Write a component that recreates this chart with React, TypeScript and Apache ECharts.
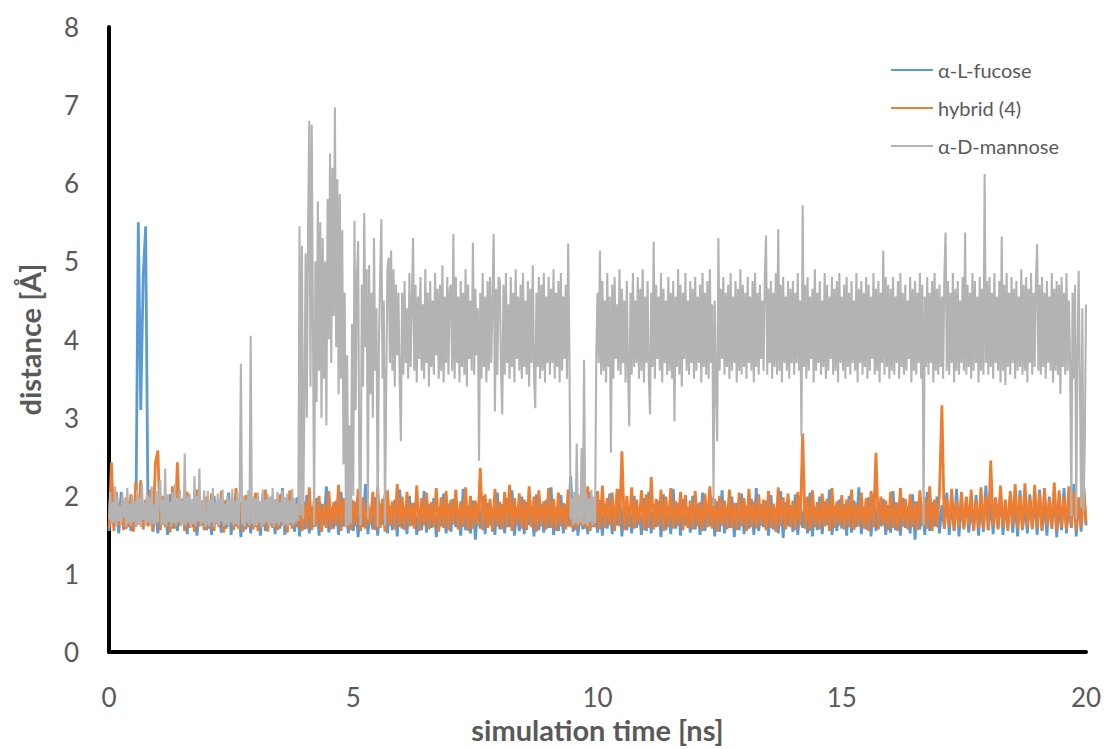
import React, { useEffect, useRef } from "react";
import * as echarts from "echarts";

// Simulation time runs from 0 to 20 ns.
// fucose / hybrid: one value every 0.05 ns (one row = 1 ns)
// mannose: one value every 0.025 ns (two rows = 1 ns)
const timeStart = 0;
const timeEnd = 20;

const fucose = [
  1.55,1.98,1.62,1.90,1.52,2.05,1.70,1.58,1.93,1.55,1.84,1.60,5.50,3.10,4.80,5.45,1.65,1.95,1.54,1.88,
  1.52,1.96,1.63,1.85,1.50,2.02,1.58,1.92,1.55,1.80,1.66,2.08,1.51,1.88,1.60,1.95,1.49,1.83,1.62,1.97,
  1.56,1.86,1.50,2.00,1.64,1.82,1.53,1.94,1.58,2.04,1.50,1.87,1.61,1.92,1.47,1.85,1.57,1.99,1.52,1.90,
  1.60,1.84,1.49,2.03,1.55,1.89,1.62,1.96,1.51,1.83,1.58,2.10,1.50,1.91,1.63,1.86,1.54,1.98,1.48,1.88,
  1.57,2.01,1.52,1.85,1.60,1.97,1.49,1.90,1.62,2.12,1.53,1.86,1.58,1.94,1.50,2.05,1.61,1.84,1.52,1.99,
  1.55,1.92,1.47,1.88,1.60,2.15,1.51,1.83,1.57,1.98,1.49,1.90,1.63,2.02,1.52,1.87,1.56,1.95,1.48,2.08,
  1.58,1.86,1.51,2.00,1.62,1.91,1.50,1.84,1.56,2.06,1.53,1.89,1.59,1.97,1.47,1.85,1.61,2.03,1.52,1.90,
  1.54,1.96,1.60,1.83,1.49,2.09,1.56,1.88,1.52,1.94,1.44,1.86,1.58,2.00,1.51,1.91,1.62,1.85,1.50,2.04,
  1.57,1.89,1.52,1.97,1.60,2.07,1.49,1.84,1.55,1.99,1.51,1.92,1.63,1.87,1.48,2.02,1.56,1.90,1.53,1.95,
  1.59,2.11,1.50,1.86,1.55,2.01,1.52,1.89,1.61,2.25,1.54,1.93,1.49,1.85,1.57,1.98,1.51,2.05,1.60,1.88,
  1.53,1.95,1.49,1.90,1.58,2.03,1.51,1.86,1.62,2.08,1.48,1.92,1.56,1.87,1.52,2.00,1.59,1.84,1.50,1.97,
  1.55,2.05,1.52,1.89,1.60,1.94,1.47,2.02,1.56,1.86,1.51,2.09,1.58,1.91,1.49,1.96,1.62,1.85,1.53,2.00,
  1.57,1.90,1.50,2.04,1.55,1.88,1.61,1.98,1.48,1.93,1.54,2.07,1.52,1.86,1.59,1.99,1.47,1.91,1.56,2.03,
  1.51,1.87,1.58,1.96,1.50,2.10,1.55,1.89,1.60,1.94,1.49,2.01,1.57,1.85,1.52,2.06,1.46,1.92,1.61,1.88,
  1.54,2.02,1.50,1.90,1.59,1.97,1.52,2.04,1.48,1.86,1.56,1.99,1.51,1.93,1.62,2.08,1.50,1.87,1.55,1.95,
  1.58,1.89,1.49,2.00,1.53,1.94,1.60,2.11,1.51,1.86,1.57,1.98,1.48,2.03,1.55,1.90,1.61,1.96,1.50,1.88,
  1.53,2.06,1.56,1.91,1.49,1.97,1.59,1.87,1.52,2.02,1.44,1.93,1.57,1.89,1.50,2.05,1.55,1.92,1.61,1.99,
  1.52,1.88,1.58,2.04,1.50,1.95,1.55,2.09,1.48,1.90,1.60,1.98,1.53,1.86,1.57,2.01,1.49,1.93,1.54,2.13,
  1.56,1.92,1.51,1.98,1.59,2.05,1.50,1.89,1.62,2.00,1.53,1.94,1.48,2.07,1.57,1.88,1.52,2.02,1.60,1.95,
  1.50,2.08,1.55,1.91,1.49,1.99,1.58,2.06,1.47,1.90,1.56,2.10,1.52,1.93,1.59,2.15,1.48,1.97,1.54,2.12,
  1.62,
];

const hybrid = [
  1.58,2.43,1.55,2.05,1.62,1.92,1.56,1.98,1.60,2.02,1.54,2.18,1.63,2.20,1.57,1.95,1.61,2.08,1.55,2.42,
  2.58,1.56,2.00,1.60,1.93,1.53,2.12,1.58,2.43,1.62,1.96,1.55,2.05,1.59,1.90,1.54,2.08,1.61,1.94,1.56,
  1.99,1.58,2.03,1.55,1.91,1.60,2.06,1.53,1.95,1.62,1.89,1.56,2.10,1.58,1.93,1.54,2.01,1.60,1.92,1.57,
  2.04,1.55,1.90,1.61,2.08,1.54,1.96,1.59,1.88,1.56,2.02,1.62,1.94,1.53,2.07,1.58,1.91,1.60,1.99,1.55,
  1.93,1.58,2.11,1.56,1.95,1.61,2.00,1.54,1.89,1.59,2.06,1.57,1.92,1.62,2.14,1.55,1.97,1.60,2.03,1.56,
  1.94,1.61,2.09,1.55,1.98,1.58,1.90,1.63,2.05,1.56,2.12,1.59,1.96,1.54,2.07,1.62,1.93,1.57,2.15,1.60,
  1.99,1.56,2.05,1.61,1.91,1.58,2.13,1.55,1.97,1.62,2.04,1.57,1.92,1.60,2.10,1.54,1.98,1.59,2.06,1.56,
  1.95,1.63,2.08,1.57,1.93,1.60,2.11,1.55,2.00,1.58,1.94,1.62,2.36,1.56,2.02,1.59,1.96,1.54,2.09,1.61,
  1.92,1.57,2.05,1.60,2.14,1.55,1.97,1.62,2.03,1.58,1.95,1.56,2.12,1.60,1.99,1.54,2.07,1.61,1.93,1.57,
  2.10,1.59,1.96,1.55,2.04,1.61,1.91,1.57,2.08,1.60,1.94,1.56,2.02,1.62,2.05,1.58,2.12,1.55,1.98,1.60,
  2.06,1.57,2.13,1.59,1.97,1.62,2.04,1.55,2.09,1.61,2.57,1.56,2.00,1.60,2.11,1.58,1.95,1.63,2.07,1.56,
  2.02,1.59,2.24,1.57,1.96,1.61,2.08,1.55,1.99,1.60,2.10,1.58,1.93,1.62,2.05,1.56,2.01,1.59,1.94,1.57,
  2.06,1.61,1.92,1.55,2.03,1.60,2.12,1.58,1.96,1.54,2.00,1.62,1.94,1.57,2.08,1.59,1.91,1.56,2.04,1.61,
  1.97,1.55,2.09,1.60,1.93,1.58,2.02,1.62,1.95,1.56,2.06,1.59,1.90,1.54,2.11,1.61,1.98,1.57,2.03,1.60,
  1.94,1.56,2.05,1.62,2.80,1.58,1.99,1.55,2.07,1.60,1.92,1.57,2.03,1.61,1.96,1.55,2.10,1.59,1.93,1.62,
  2.01,1.57,1.95,1.60,2.08,1.56,1.91,1.61,2.04,1.58,1.97,1.55,2.06,1.60,2.55,1.57,1.99,1.62,1.94,1.56,
  2.05,1.59,1.92,1.55,2.10,1.61,1.96,1.57,2.02,1.60,1.93,1.56,2.07,1.62,1.98,1.58,2.12,1.55,1.95,1.60,
  2.03,3.16,1.58,1.96,1.61,2.09,1.56,1.93,1.60,2.05,1.57,1.99,1.62,2.08,1.55,1.94,1.59,2.11,1.58,2.00,
  1.56,2.45,1.61,1.97,1.57,2.13,1.60,1.95,1.55,2.06,1.62,2.15,1.58,2.01,1.56,2.16,1.61,1.98,1.57,2.14,
  1.59,2.03,1.56,2.10,1.62,1.96,1.58,2.17,1.55,2.07,1.60,1.99,1.57,2.12,1.61,2.05,1.56,1.98,1.60,2.15,
  1.65,
];

const mannose = [
  1.70,2.05,1.63,1.92,1.66,2.12,1.61,1.98,1.68,1.88,1.62,2.02,1.72,1.95,1.60,2.10,1.65,1.90,1.62,2.00,
  1.67,1.93,1.61,2.08,1.64,1.97,1.60,2.15,1.69,1.91,1.62,2.04,1.66,1.99,1.61,2.12,1.64,1.89,1.63,2.06,
  1.66,1.98,2.20,1.62,1.95,1.64,2.35,1.61,2.02,1.67,1.92,1.60,2.05,1.65,2.15,1.62,1.97,1.66,2.08,1.61,
  1.94,1.63,2.54,1.62,1.99,1.66,2.03,1.60,1.96,1.64,2.25,1.61,2.00,1.67,2.35,1.62,1.93,1.65,2.07,1.60,
  1.64,2.06,1.61,1.95,1.66,2.10,1.60,1.92,1.65,2.03,1.62,1.97,1.67,2.08,1.61,1.90,1.63,2.01,1.60,1.96,
  1.66,2.09,1.62,1.94,1.64,2.04,1.61,1.98,3.69,1.63,2.00,1.60,1.95,1.66,2.07,1.62,4.05,1.64,1.99,1.61,
  1.97,1.62,2.04,1.66,1.93,1.60,2.08,1.63,1.95,1.67,2.02,1.61,1.99,1.64,2.10,1.60,1.96,1.65,2.05,1.62,
  1.92,1.66,2.07,1.61,1.98,1.63,2.03,1.60,1.94,1.65,2.09,1.62,1.97,1.66,1.90,1.68,5.45,1.75,5.20,1.70,
  3.20,5.10,3.00,5.40,6.80,3.40,6.75,4.20,1.62,5.00,3.20,5.77,3.60,5.50,3.00,5.30,3.50,5.00,2.90,5.80,
  4.00,6.38,3.70,6.20,4.30,6.97,3.90,6.05,3.30,5.86,3.50,5.40,2.40,4.60,1.60,3.80,1.62,2.90,1.65,4.20,
  2.00,5.52,3.10,4.80,5.26,2.20,1.62,4.70,3.40,5.62,3.90,4.90,1.70,4.95,3.30,4.60,3.00,5.30,3.60,4.40,
  1.60,3.90,4.80,5.54,3.50,4.50,1.62,3.40,4.90,5.05,3.70,5.14,3.60,4.90,3.40,4.70,3.80,4.60,3.50,2.70,
  4.60,3.55,4.75,3.70,4.40,3.50,4.85,3.65,4.50,5.30,3.60,4.70,3.45,4.55,3.75,4.80,3.60,4.45,3.50,4.90,
  3.70,4.60,3.40,4.75,3.65,4.50,3.55,4.85,3.80,4.65,3.50,4.70,3.60,4.95,3.45,4.55,3.70,4.80,3.55,4.65,
  4.70,3.60,5.35,3.50,4.80,3.70,4.55,3.45,4.75,3.65,4.60,3.55,4.90,3.40,4.70,3.75,4.50,3.60,5.24,3.55,
  4.65,3.80,4.40,2.45,4.60,3.50,4.85,3.65,4.55,3.45,4.75,3.60,4.80,3.70,4.50,5.35,3.08,4.65,3.55,4.80,
  4.75,3.60,3.04,4.70,3.55,4.85,3.70,4.45,3.50,4.80,3.65,4.60,3.45,4.90,3.75,4.55,3.60,4.70,3.50,4.85,
  3.65,4.50,3.55,4.75,3.40,4.65,3.70,4.95,3.55,3.12,4.60,3.65,4.80,3.50,4.70,3.60,4.85,3.45,4.55,3.70,
  4.80,3.55,4.65,3.70,4.90,3.50,4.60,3.65,4.75,3.45,4.85,3.60,4.55,3.75,4.70,3.50,5.23,3.80,1.70,1.98,
  1.62,2.05,1.65,2.67,1.63,1.95,1.66,2.61,1.62,3.74,1.64,2.02,1.61,1.96,1.66,2.08,1.62,1.99,1.65,3.80,
  4.60,3.70,5.14,3.55,4.75,3.60,4.50,3.45,4.85,3.65,4.55,2.55,4.70,3.50,4.80,3.75,4.45,3.60,4.90,3.55,
  4.65,3.70,4.50,3.45,4.75,3.60,2.89,4.60,3.55,4.85,3.65,4.50,3.70,4.80,3.50,4.65,3.60,4.90,3.45,4.55,
  3.70,4.75,3.55,3.04,4.60,3.65,5.25,3.50,4.70,3.75,4.55,3.60,4.85,3.45,4.65,3.70,4.50,3.55,4.80,3.60,
  4.60,3.50,4.75,2.95,4.55,3.65,4.90,3.55,4.70,3.40,4.60,3.75,4.85,3.60,4.50,3.55,4.75,3.70,4.65,3.50,
  4.80,3.60,4.55,3.70,4.70,3.45,4.85,3.65,4.60,3.55,4.75,3.50,4.90,3.70,4.45,1.87,4.50,3.40,2.70,5.30,
  3.60,4.65,3.75,4.80,3.55,4.60,3.65,4.70,3.50,4.85,3.60,4.55,3.70,4.75,3.45,4.65,3.60,4.90,3.55,4.70,
  3.65,4.60,3.50,4.80,3.70,4.55,3.60,4.75,3.45,4.85,3.65,4.60,3.55,4.70,3.75,4.50,3.60,4.80,5.33,3.55,
  4.65,3.70,4.75,3.50,4.60,3.65,4.85,3.55,5.41,3.60,4.70,3.45,4.80,3.70,4.55,3.60,4.75,3.50,4.65,3.70,
  4.75,3.55,4.60,3.70,4.85,3.60,4.50,2.76,5.72,3.65,4.70,3.50,4.80,3.60,4.55,3.75,4.65,3.45,4.90,3.60,
  4.60,3.70,4.75,3.55,4.50,3.65,4.85,3.50,4.70,3.60,4.55,3.75,4.80,3.55,4.65,3.60,4.75,3.45,4.85,3.70,
  4.55,3.60,4.70,3.50,4.80,3.65,4.60,3.55,4.75,3.70,4.50,3.60,4.85,3.45,4.65,3.70,4.75,3.55,4.60,3.65,
  4.80,3.50,4.70,3.60,4.55,3.75,4.85,3.55,4.65,3.60,4.75,3.45,4.60,3.70,5.14,3.55,4.80,3.65,4.70,3.50,
  4.65,3.60,4.80,3.55,4.55,3.70,4.75,3.50,4.85,3.65,4.60,3.55,4.70,3.60,4.50,3.75,4.80,3.45,4.65,3.60,
  4.75,3.55,4.60,3.70,4.85,3.50,4.70,1.62,4.55,3.65,4.80,3.55,4.60,3.70,4.75,3.45,4.85,3.60,4.65,3.55,
  4.70,3.65,4.55,3.50,4.80,5.37,3.60,4.75,3.55,4.60,3.70,4.85,3.45,4.65,3.60,4.75,3.55,4.50,3.70,4.80,
  3.60,5.37,3.55,4.70,3.65,4.60,3.50,4.85,3.60,4.75,3.70,4.55,3.45,4.80,3.60,4.65,3.55,6.12,3.70,4.75,
  3.55,4.80,3.65,4.60,3.50,4.85,3.70,4.55,3.60,4.75,3.45,5.32,3.60,4.70,3.42,4.85,3.65,4.60,3.55,4.80,
  3.70,4.65,3.50,4.75,3.60,4.55,3.65,4.90,3.55,4.70,3.60,4.80,3.45,4.65,3.70,4.85,3.55,4.60,3.65,4.75,
  5.22,3.60,4.70,3.55,4.80,3.65,4.60,3.50,4.75,3.70,4.55,3.60,4.85,3.45,4.65,3.60,4.75,3.55,4.70,3.30,
  4.80,3.65,4.60,3.55,4.85,3.60,4.50,3.70,1.74,4.60,3.50,4.70,1.70,3.80,4.88,3.40,1.85,4.40,1.80,2.67,
  4.45,
];

const seriesNames = ["α-L-fucose", "hybrid (4)", "α-D-mannose"];
const seriesColors = ["#5B9BD5", "#ED7D31", "#B3B3B3"];
const seriesValues = [fucose, hybrid, mannose];
const seriesWidths = [2.8, 2.8, 2.1];

const yTicks = [0, 1, 2, 3, 4, 5, 6, 7, 8];
const xTicks = [0, 5, 10, 15, 20];

function toPoints(values: number[]) {
  const step = (timeEnd - timeStart) / (values.length - 1);
  return values.map((v, i) => [timeStart + i * step, v]);
}

export default function App() {
  const ref = useRef<HTMLDivElement>(null);
  useEffect(() => {
    if (!ref.current) return;
    const chart = echarts.init(ref.current, undefined, { renderer: "svg" });
    const labelColor = "#595959";
    const font = "Lato, 'Open Sans', sans-serif";
    chart.setOption({
      animation: false,
      backgroundColor: "#ffffff",
      grid: { left: 109, right: 20, top: 27, bottom: 92, containLabel: false },
      legend: {
        orient: "vertical",
        left: 886,
        top: 55,
        icon: "rect",
        itemWidth: 42,
        itemHeight: 2,
        itemGap: 18,
        data: seriesNames,
        textStyle: { color: labelColor, fontSize: 20, fontFamily: font, lineHeight: 20 },
      },
      xAxis: {
        type: "value",
        min: xTicks[0],
        max: xTicks[xTicks.length - 1],
        interval: 5,
        name: "simulation time [ns]",
        nameLocation: "middle",
        nameGap: 58,
        nameTextStyle: { color: labelColor, fontSize: 29, fontWeight: "bold", fontFamily: font },
        axisLine: { show: true, onZero: false, lineStyle: { color: "#000000", width: 4 } },
        axisTick: { show: false },
        splitLine: { show: false },
        axisLabel: { color: labelColor, fontSize: 26, fontFamily: font, margin: 32 },
      },
      yAxis: {
        type: "value",
        min: yTicks[0],
        max: yTicks[yTicks.length - 1],
        interval: 1,
        name: "distance [Å]",
        nameLocation: "middle",
        nameGap: 65,
        nameRotate: 90,
        nameTextStyle: { color: labelColor, fontSize: 29, fontWeight: "bold", fontFamily: font },
        axisLine: { show: true, lineStyle: { color: "#000000", width: 4 } },
        axisTick: { show: false },
        splitLine: { show: false },
        axisLabel: { color: labelColor, fontSize: 26, fontFamily: font, margin: 30 },
      },
      series: seriesNames.map((name, k) => ({
        name,
        type: "line",
        data: toPoints(seriesValues[k]),
        showSymbol: false,
        symbol: "none",
        color: seriesColors[k],
        lineStyle: { color: seriesColors[k], width: seriesWidths[k], join: "bevel" },
        z: 2 + k,
      })),
    });
    return () => chart.dispose();
  }, []);
  return (
    <div
      ref={ref}
      style={{ position: "absolute", left: 0, top: 0, width: 1106, height: 749 }}
    />
  );
}
